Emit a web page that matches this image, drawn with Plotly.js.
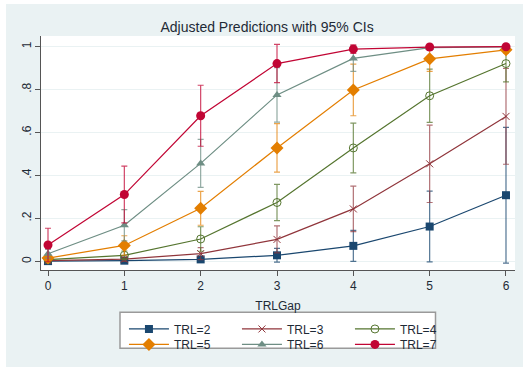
<!DOCTYPE html>
<html>
<head>
<meta charset="utf-8">
<script src="https://cdn.plot.ly/plotly-3.0.1.min.js"></script>
<style>
  html, body { margin: 0; padding: 0; background: #ffffff; width: 523px; height: 367px; overflow: hidden; }
  #chart { position: absolute; left: 6px; top: 4px; width: 517px; height: 363px; }
</style>
</head>
<body>
<div id="chart"></div>
<script>
// ---- data ----
const trlGap = [0, 1, 2, 3, 4, 5, 6];
const xTickLabels = ["0", "1", "2", "3", "4", "5", "6"];
const yTickVals = [0, 0.2, 0.4, 0.6, 0.8, 1];
const yTickLabels = ["0", ".2", ".4", ".6", ".8", "1"];
const seriesNames = ["TRL=2", "TRL=3", "TRL=4", "TRL=5", "TRL=6", "TRL=7"];

const trl2 = [0.001, 0.003, 0.009, 0.028, 0.072, 0.162, 0.308];
const trl2Ci = [0.002, 0.004, 0.010, 0.032, 0.072, 0.165, 0.316];
const trl3 = [0.003, 0.010, 0.036, 0.102, 0.244, 0.454, 0.675];
const trl3Ci = [0.004, 0.010, 0.028, 0.063, 0.106, 0.180, 0.223];
const trl4 = [0.008, 0.028, 0.104, 0.274, 0.528, 0.771, 0.921];
const trl4Ci = [0.006, 0.020, 0.057, 0.084, 0.116, 0.124, 0.085];
const trl5 = [0.015, 0.074, 0.247, 0.528, 0.798, 0.943, 0.985];
const trl5Ci = [0.010, 0.045, 0.079, 0.113, 0.120, 0.058, 0.015];
const trl6 = [0.035, 0.168, 0.456, 0.775, 0.945, 0.995, 0.999];
const trl6Ci = [0.020, 0.073, 0.112, 0.127, 0.060, 0.010, 0.002];
const trl7 = [0.076, 0.311, 0.678, 0.921, 0.988, 0.998, 0.9995];
const trl7Ci = [0.078, 0.132, 0.142, 0.089, 0.020, 0.003, 0.001];

// ---- styles ----
const colors = ["#1a476f", "#90353b", "#55752f", "#e37e00", "#6e8e84", "#c10534"];
const ciColors = ["rgba(26,71,111,0.75)", "rgba(144,53,59,0.7)", "rgba(85,117,47,0.75)",
                  "rgba(227,126,0,0.7)", "rgba(110,142,132,0.75)", "rgba(193,5,52,0.75)"];
const symbols = ["square", "x-thin-open", "circle-open", "diamond", "triangle-up", "circle"];
const sizes = [8, 7, 8, 10, 8, 9];
const values = [trl2, trl3, trl4, trl5, trl6, trl7];
const cis = [trl2Ci, trl3Ci, trl4Ci, trl5Ci, trl6Ci, trl7Ci];
const legendIds = ["legend", "legend", "legend", "legend2", "legend2", "legend2"];

const traces = values.map((v, i) => ({
  type: "scatter",
  mode: "lines+markers",
  x: trlGap,
  y: v,
  name: seriesNames[i],
  legend: legendIds[i],
  line: { color: colors[i], width: 1.2 },
  marker: {
    color: colors[i],
    symbol: symbols[i],
    size: sizes[i],
    line: { color: colors[i], width: (i === 1 || i === 2) ? 1 : 0 }
  },
  error_y: {
    type: "data",
    array: cis[i],
    symmetric: true,
    color: ciColors[i],
    thickness: 1.2,
    width: 3
  }
}));

const axisFont = { family: "Liberation Sans, Arial, sans-serif", size: 12, color: "#1e2a36" };

const legendCommon = {
  orientation: "h",
  xanchor: "left",
  yanchor: "middle",
  x: 0.175,
  bgcolor: "rgba(0,0,0,0)",
  borderwidth: 0,
  font: { family: "Liberation Sans, Arial, sans-serif", size: 12, color: "#1e2a36" },
  entrywidth: 58,
  entrywidthmode: "pixels",
  itemwidth: 40,
  traceorder: "normal"
};

const layout = {
  width: 517,
  height: 363,
  margin: { l: 35, r: 8, t: 32, b: 89 },
  paper_bgcolor: "#eaf2f3",
  plot_bgcolor: "#ffffff",
  title: {
    text: "Adjusted Predictions with 95% CIs",
    font: { family: "Liberation Sans, Arial, sans-serif", size: 14, color: "#1e2a36" },
    x: 0.505,
    xref: "container",
    xanchor: "center",
    y: 0.935,
    yref: "container",
    yanchor: "middle"
  },
  xaxis: {
    range: [-0.0917, 6.118],
    tickvals: trlGap,
    ticktext: xTickLabels,
    ticks: "outside",
    ticklen: 5,
    tickcolor: "#555",
    showline: true,
    linecolor: "#555",
    linewidth: 1,
    showgrid: false,
    zeroline: false,
    tickfont: axisFont,
    title: { text: "TRLGap", font: axisFont, standoff: 9 }
  },
  yaxis: {
    range: [-0.0404, 1.0494],
    tickvals: yTickVals,
    ticktext: yTickLabels,
    tickangle: -90,
    ticklabelstandoff: -1,
    ticks: "outside",
    ticklen: 5,
    tickcolor: "#555",
    showline: true,
    linecolor: "#555",
    linewidth: 1,
    showgrid: true,
    gridcolor: "#eaf2f3",
    gridwidth: 1,
    zeroline: false,
    tickfont: axisFont
  },
  showlegend: true,
  legend: Object.assign({}, legendCommon, { y: -0.252 }),
  legend2: Object.assign({}, legendCommon, { y: -0.318 }),
  shapes: [{
    type: "rect",
    xref: "paper", yref: "paper",
    x0: (114 - 35) / 474, x1: (429.5 - 35) / 474,
    y0: -0.3347, y1: -0.1806,
    fillcolor: "#ffffff",
    line: { color: "#9a9a9a", width: 1.5 },
    layer: "below"
  }]
};

Plotly.newPlot("chart", traces, layout, { displayModeBar: false, staticPlot: true });
</script>
</body>
</html>
